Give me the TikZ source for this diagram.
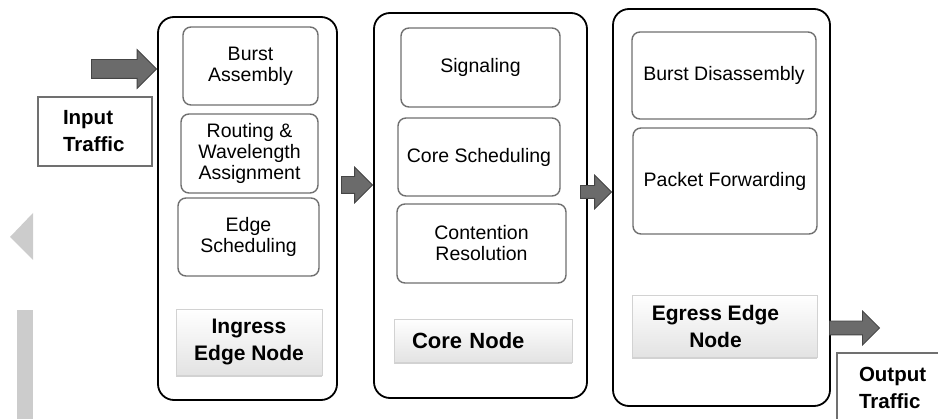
\documentclass[tikz,border=0pt]{standalone}
\usepackage{fontspec}
\setmainfont{Liberation Sans}
\usepackage{xcolor}
\usetikzlibrary{positioning,shapes.arrows,shadows}
\definecolor{arrowfill}{HTML}{6B6B6B}
\definecolor{arrowline}{HTML}{454545}
\definecolor{boxline}{HTML}{707070}
\definecolor{sidegray}{HTML}{CCCCCC}
\tikzset{outer box/.style={draw=black,line width=1.8pt,rounded corners=16pt,fill=white},
  inner box/.style={draw=boxline,line width=1.4pt,rounded corners=8pt,align=center,font=\fontsize{19.5}{21}\selectfont},
  label box/.style={draw=gray!35,line width=0.6pt,top color=white,bottom color=gray!22,drop shadow={shadow xshift=0pt,shadow yshift=-2.5pt,opacity=0.35},font=\bfseries\fontsize{21}{27}\selectfont},
  traffic box/.style={draw=boxline,line width=1.2pt,fill=white,font=\bfseries\fontsize{20.5}{27}\selectfont,align=left},
  fat arrow/.style={single arrow,draw=arrowline,fill=arrowfill,line width=0.8pt,inner xsep=0pt,anchor=tip},
}

\begin{document}
\begin{tikzpicture}[x=1pt,y=-1pt]
    \useasboundingbox (0,0) rectangle (938,419);
    % grey marks on the left
    \fill[sidegray] (10,237) -- (33,213) -- (33,260) -- cycle;
    \fill[sidegray] (17,310) rectangle (33,419);

    % ingress
    \node[outer box,minimum width=179pt,minimum height=383pt] (ingress) at (247.5,208.5) {};
    \node[inner box,minimum width=135pt,minimum height=78pt] (assembly) at (250.5,66) {Burst\\Assembly};
    \node[inner box,minimum width=137pt,minimum height=79pt] (routing) at (249.5,153.5) {Routing \&\\Wavelength\\Assignment};
    \node[inner box,minimum width=141pt,minimum height=78pt] (edgesched) at (248.5,237) {Edge\\Scheduling};
    \node[label box,minimum width=146pt,minimum height=66pt,align=center] (ingresslbl) at (249,342) {Ingress\\Edge Node};

    \node[traffic box,minimum width=114pt,minimum height=69pt,text width=64pt] (input) at (95,131.5) {Input\\Traffic};
    \node[fat arrow,inner ysep=9pt,minimum width=38pt,single arrow head extend=10pt,minimum height=65pt] (inarrow) at (ingress.west |- 0,69) {};

    % core
    \node[outer box,minimum width=213pt,minimum height=385pt] (core) at (480.5,205.5) {};
    \node[inner box,minimum width=159pt,minimum height=79pt] (signaling) at (480.5,67.5) {Signaling};
    \node[inner box,minimum width=162pt,minimum height=78pt] (coresched) at (479,157) {Core Scheduling};
    \node[inner box,minimum width=169pt,minimum height=79pt] (contention) at (481.5,243.5) {Contention\\Resolution};
    \node[label box,minimum width=178pt,minimum height=43pt,text width=142pt,align=left,font=\bfseries\fontsize{22}{27}\selectfont] (corelbl) at (483,340.5) {Core Node};

    \node[fat arrow,inner ysep=8pt,minimum width=35pt,single arrow head extend=9.5pt,minimum height=31pt] (arrow1) at (core.west |- 0,185) {};

    % egress
    \node[outer box,minimum width=217pt,minimum height=397pt] (egress) at (721.5,207.5) {};
    \node[inner box,minimum width=184pt,minimum height=87pt] (disassembly) at (724,75.5) {Burst Disassembly};
    \node[inner box,minimum width=184pt,minimum height=106pt] (forwarding) at (725,181) {Packet Forwarding};
    \node[label box,minimum width=185pt,minimum height=62pt,align=center] (egresslbl) at (724.5,326) {\hspace*{-18pt}Egress Edge\\\hspace*{-18pt}Node};

    \node[fat arrow,inner ysep=6pt,minimum width=33pt,single arrow head extend=10.5pt,minimum height=31pt] (arrow2) at (egress.west |- 0,192) {};
    \node[fat arrow,inner ysep=6.5pt,minimum width=33pt,single arrow head extend=10pt,minimum height=50pt] (outarrow) at (880,328) {};

    \node[traffic box,minimum width=116pt,minimum height=70pt,text width=72pt] (output) at (895,388) {Output\\Traffic};
\end{tikzpicture}
\end{document}
